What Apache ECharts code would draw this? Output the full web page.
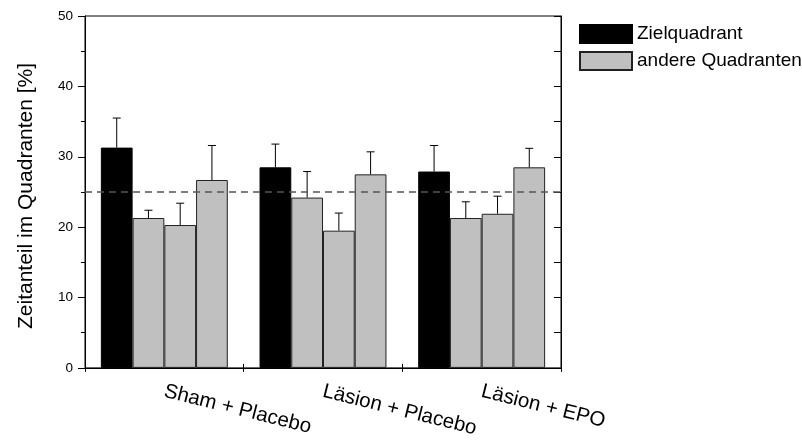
<!DOCTYPE html>
<html><head><meta charset="utf-8">
<script src="https://cdn.jsdelivr.net/npm/echarts@6/dist/echarts.min.js"></script>
<style>html,body{margin:0;padding:0;background:#fff}#c{width:802px;height:440px}</style>
</head><body><div id="c"></div>
<script>
const categories = ['Sham + Placebo', 'Läsion + Placebo', 'Läsion + EPO'];
const yTicks = [0, 10, 20, 30, 40, 50];
const zielMean = [31.3, 28.5, 27.9];
const zielSd = [4.2, 3.3, 3.7];
const andere1Mean = [21.3, 24.2, 21.3];
const andere1Sd = [1.1, 3.7, 2.3];
const andere2Mean = [20.3, 19.5, 21.9];
const andere2Sd = [3.1, 2.5, 2.5];
const andere3Mean = [26.7, 27.5, 28.5];
const andere3Sd = [4.9, 3.2, 2.7];
const chanceLevel = 25;

const FONT = '"Liberation Sans", Arial, sans-serif';
const groups = [
  {name: 'Zielquadrant', mean: zielMean, sd: zielSd, color: '#000000', border: '#000000'},
  {name: 'andere Quadranten', mean: andere1Mean, sd: andere1Sd, color: '#c0c0c0', border: '#222222'},
  {name: 'andere Quadranten', mean: andere2Mean, sd: andere2Sd, color: '#c0c0c0', border: '#222222'},
  {name: 'andere Quadranten', mean: andere3Mean, sd: andere3Sd, color: '#c0c0c0', border: '#222222'}
];
const nBars = groups.length;

const series = [];
groups.forEach((g, k) => {
  const s = {
    type: 'bar', name: g.name, data: g.mean,
    barGap: '0%', barCategoryGap: '20%',
    itemStyle: {color: g.color, borderColor: g.border, borderWidth: 1},
    emphasis: {disabled: true}, silent: true, z: 2
  };
  if (k === 0) {
    s.markLine = {
      silent: true, symbol: 'none', label: {show: false},
      lineStyle: {color: '#555', type: [7, 5], width: 1.6},
      data: [{yAxis: chanceLevel}]
    };
  }
  series.push(s);
});
groups.forEach((g, k) => {
  series.push({
    type: 'custom', name: 'err' + k, silent: true, z: 3,
    data: g.mean.map((m, i) => [i, m, m + g.sd[i]]),
    renderItem: function (params, api) {
      const x = api.value(0);
      const base = api.coord([x, api.value(1)]);
      const top = api.coord([x, api.value(2)]);
      const catW = api.size([1, 0])[0];
      const bw = catW * 0.8 / nBars;
      const cx = base[0] - catW * 0.4 + bw * (k + 0.5);
      const st = {stroke: '#000', lineWidth: 1};
      return {type: 'group', children: [
        {type: 'line', shape: {x1: cx, y1: base[1], x2: cx, y2: top[1]}, style: st},
        {type: 'line', shape: {x1: cx - 4, y1: top[1], x2: cx + 4, y2: top[1]}, style: st}
      ]};
    }
  });
});

const chart = echarts.init(document.getElementById('c'), null, {renderer: 'canvas'});
chart.setOption({
  animation: false,
  backgroundColor: '#fff',
  textStyle: {fontFamily: FONT},
  grid: {left: 85, right: 241, top: 16, bottom: 72, show: true, borderColor: '#000', borderWidth: 1},
  legend: {
    data: ['Zielquadrant', 'andere Quadranten'],
    orient: 'vertical', left: 574, top: 19,
    icon: 'rect',
    itemWidth: 52, itemHeight: 18, itemGap: 7,
    textStyle: {fontSize: 19, color: '#000', fontFamily: FONT},
    selectedMode: false
  },
  xAxis: [{
    type: 'category', data: categories,
    axisLine: {lineStyle: {color: '#000', width: 1}},
    axisTick: {show: true, length: 4, lineStyle: {color: '#000'}},
    axisLabel: {rotate: -14, margin: 23, fontSize: 20.5, color: '#000', fontFamily: FONT}
  }, {
    type: 'category', data: categories, position: 'bottom', gridIndex: 0,
    axisLine: {show: false},
    axisTick: {show: true, inside: true, length: 4, lineStyle: {color: '#000'}},
    axisLabel: {show: false}
  }],
  yAxis: [{
    type: 'value', min: yTicks[0], max: yTicks[yTicks.length - 1], interval: 10,
    name: 'Zeitanteil im Quadranten [%]', nameLocation: 'middle', nameGap: 48,
    nameTextStyle: {fontSize: 21, color: '#000', fontFamily: FONT, padding: [0, 8, 0, 0]},
    axisLine: {show: true, lineStyle: {color: '#000'}},
    axisTick: {show: true, length: 7, lineStyle: {color: '#000'}},
    minorTick: {show: true, splitNumber: 2, length: 4, lineStyle: {color: '#000'}},
    splitLine: {show: false},
    axisLabel: {fontSize: 13.5, color: '#000', margin: 12, fontFamily: FONT}
  }, {
    type: 'value', position: 'right', min: yTicks[0], max: yTicks[yTicks.length - 1], interval: 10,
    axisLine: {show: true, lineStyle: {color: '#000'}},
    axisTick: {show: true, inside: true, length: 7, lineStyle: {color: '#000'}},
    minorTick: {show: true, splitNumber: 2, length: 7, lineStyle: {color: '#000'}},
    splitLine: {show: false},
    axisLabel: {show: false}
  }],
  series: series
});
</script></body></html>
